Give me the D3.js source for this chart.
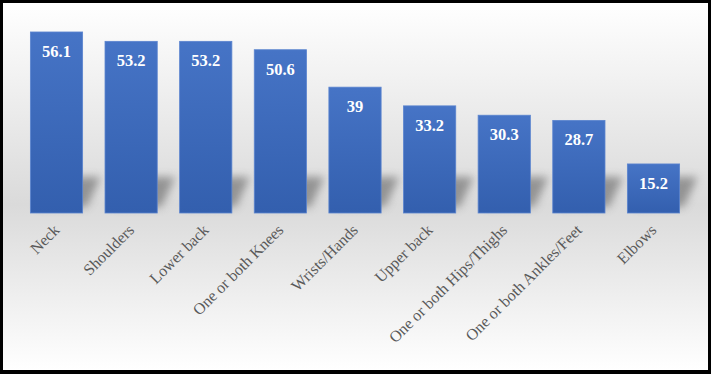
<!DOCTYPE html>
<html>
<head>
<meta charset="utf-8">
<script src="https://cdn.jsdelivr.net/npm/d3@7"></script>
<style>
  body { margin: 0; background: #000; }
  svg { display: block; }
</style>
</head>
<body>
<div id="chart"></div>
<script>
var categories = ["Neck", "Shoulders", "Lower back", "One or both Knees", "Wrists/Hands",
    "Upper back", "One or both Hips/Thighs", "One or both Ankles/Feet", "Elbows"];
var values = [56.1, 53.2, 53.2, 50.6, 39, 33.2, 30.3, 28.7, 15.2];
var valueLabels = ["56.1", "53.2", "53.2", "50.6", "39", "33.2", "30.3", "28.7", "15.2"];

var width = 711, height = 374;
var baseY = 213;

var svg = d3.select("#chart")
    .append("svg")
    .attr("width", width)
    .attr("height", height);

var defs = svg.append("defs");

var bg = defs.append("linearGradient")
    .attr("id", "bgGrad")
    .attr("x1", 0).attr("y1", 0).attr("x2", 0).attr("y2", 1);
bg.append("stop").attr("offset", "0%").attr("stop-color", "#ffffff");
bg.append("stop").attr("offset", "55%").attr("stop-color", "#dadada");
bg.append("stop").attr("offset", "100%").attr("stop-color", "#ffffff");

var barGrad = defs.append("linearGradient")
    .attr("id", "barGrad")
    .attr("x1", 0).attr("y1", 0).attr("x2", 0).attr("y2", 1);
barGrad.append("stop").attr("offset", "0%").attr("stop-color", "#4674c6");
barGrad.append("stop").attr("offset", "100%").attr("stop-color", "#335fae");

var blur = defs.append("filter")
    .attr("id", "shadowBlur")
    .attr("x", "-50%").attr("y", "-50%").attr("width", "200%").attr("height", "200%");
blur.append("feGaussianBlur").attr("stdDeviation", 4);

// frame
svg.append("rect")
    .attr("x", 0).attr("y", 0)
    .attr("width", width).attr("height", height)
    .attr("fill", "#000");
svg.append("rect")
    .attr("x", 3).attr("y", 3)
    .attr("width", 705).attr("height", 367)
    .attr("fill", "url(#bgGrad)");

var x = d3.scaleBand()
    .domain(categories)
    .range([8, 702])
    .padding(0.3);

var y = d3.scaleLinear()
    .domain([0, 60])
    .range([baseY, 19.4]);

var data = categories.map(function (c, i) {
    return { name: c, value: values[i], label: valueLabels[i] };
});

// floor shadows
svg.append("g")
    .selectAll("path")
    .data(data)
    .enter()
    .append("path")
    .attr("filter", "url(#shadowBlur)")
    .attr("fill", "#7a7a7a")
    .attr("opacity", 0.75)
    .attr("d", function (d) {
        var x0 = x(d.name) + 6, x1 = x(d.name) + x.bandwidth() + 4;
        var h = Math.min(baseY - y(d.value), 38);
        var b = baseY - 6;
        return "M" + x0 + "," + b + "L" + x1 + "," + b +
            "L" + (x1 + 14) + "," + (b - h + 8) + "L" + (x0 + 14) + "," + (b - h + 8) + "Z";
    });

var bars = svg.selectAll(".bar")
    .data(data)
    .enter()
    .append("g");

bars.append("rect")
    .attr("class", "bar")
    .attr("x", function (d) { return x(d.name); })
    .attr("y", function (d) { return y(d.value); })
    .attr("width", x.bandwidth())
    .attr("height", function (d) { return baseY - y(d.value); })
    .attr("fill", "url(#barGrad)")
    .attr("stroke", "#5b84cf")
    .attr("stroke-width", 0.8);

bars.append("text")
    .attr("x", function (d) { return x(d.name) + x.bandwidth() / 2; })
    .attr("y", function (d) { return y(d.value) + 25; })
    .attr("text-anchor", "middle")
    .attr("font-family", "Liberation Serif")
    .attr("font-weight", "bold")
    .attr("font-size", "16.5px")
    .attr("fill", "#ffffff")
    .text(function (d) { return d.label; });

svg.append("g")
    .selectAll("text")
    .data(categories)
    .enter()
    .append("text")
    .attr("text-anchor", "end")
    .attr("font-family", "Liberation Serif")
    .attr("font-size", "16px")
    .attr("fill", "#595959")
    .attr("transform", function (d) {
        var cx = x(d) + x.bandwidth() / 2 + 4;
        return "translate(" + cx + "," + 231 + ") rotate(-45)";
    })
    .text(function (d) { return d; });
</script>
</body>
</html>
